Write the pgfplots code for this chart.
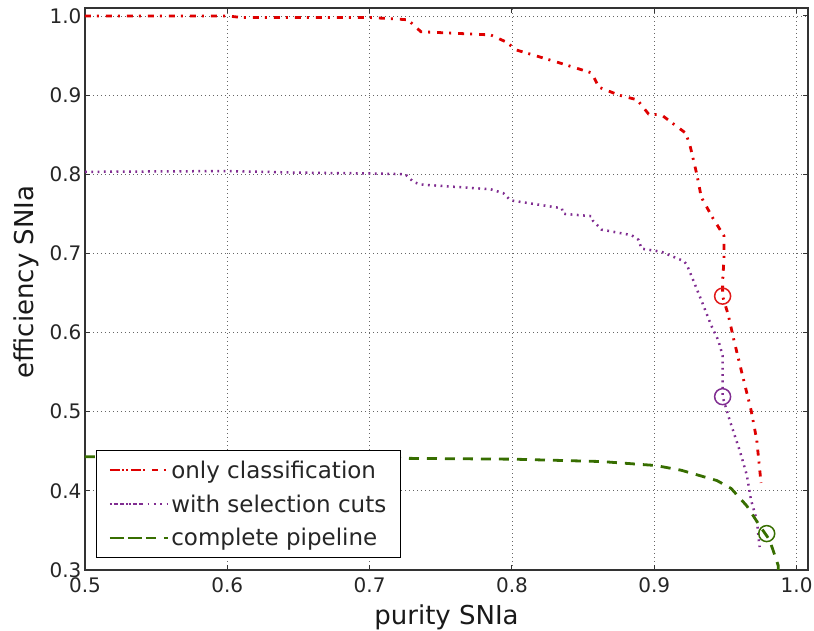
\documentclass[border=0pt]{standalone}
\usepackage{fontspec}
\setmainfont{DejaVu Sans}
\usepackage{pgfplots}
\pgfplotsset{compat=1.18}
\definecolor{cred}{RGB}{222,0,0}
\definecolor{cpurple}{RGB}{128,45,145}
\definecolor{cgreen}{RGB}{55,110,0}
\begin{document}
\begin{tikzpicture}
\path[use as bounding box] (-85pt,-61pt) rectangle (729pt,570pt);
\begin{axis}[
  at={(0,0)}, anchor=south west,
  scale only axis, width=723pt, height=562pt,
  xmin=0.5, xmax=1.008, ymin=0.3, ymax=1.01,
  xtick={0.5,0.6,...,1.0}, ytick={0.3,0.4,...,1.0},
  /pgf/number format/assume math mode=true,
  /pgf/number format/.cd, fixed, fixed zerofill, precision=1, /pgfplots/.cd,
  tick label style={font=\fontsize{20}{24}\selectfont, text=black!85},
  xticklabel style={yshift=-4pt},
  xlabel={purity SNIa}, ylabel={efficiency SNIa},
  label style={font=\fontsize{26}{30}\selectfont, text=black!90},
  xlabel style={at={(axis description cs:0.5,0)}, anchor=base, yshift=-55pt},
  ylabel style={at={(axis description cs:-0.0719,0.5125)}, anchor=base},
  grid=major,
  major grid style={black!60, line width=0.7pt, dash pattern=on 1pt off 3pt},
  axis line style={black!80, line width=1.2pt},
  major tick length=5pt,
  tick style={black!80, line width=1pt},
  legend style={at={(rel axis cs:0.0152,0.0214)}, anchor=south west,
    font=\fontsize{23}{27}\selectfont, draw=black, line width=1pt, fill=white,
    inner xsep=12pt, inner ysep=8pt, row sep=11pt, cells={anchor=west, text=black!85}},
  legend cell align=left,
  legend image code/.code={\draw[#1] (4pt,0pt) -- (35pt,0pt); \path (0pt,0pt) -- (58pt,0pt);},
]
\addplot[cred, line width=2.8pt, dash pattern=on 6pt off 6pt on 2pt off 7pt] coordinates {
(0.5,1.0)(0.6,1.0)(0.61,0.998)(0.70,0.998)(0.72,0.996)(0.727,0.995)(0.736,0.98)(0.785,0.976)(0.796,0.967)(0.803,0.957)(0.831,0.942)(0.856,0.928)(0.861,0.910)(0.875,0.90)(0.888,0.894)(0.896,0.876)(0.905,0.875)(0.922,0.852)(0.925,0.837)(0.930,0.799)(0.933,0.771)(0.941,0.745)(0.949,0.722)(0.949,0.694)(0.948,0.664)(0.948,0.646)(0.952,0.622)(0.956,0.590)(0.961,0.553)(0.968,0.502)(0.972,0.464)(0.975,0.410)
};
\addlegendentry{only classification}
\addplot[cpurple, line width=2.5pt, dash pattern=on 1.8pt off 4.5pt] coordinates {
(0.5,0.803)(0.6,0.804)(0.65,0.802)(0.7,0.801)(0.725,0.800)(0.731,0.790)(0.736,0.787)(0.785,0.781)(0.794,0.776)(0.799,0.767)(0.835,0.757)(0.836,0.750)(0.856,0.747)(0.857,0.741)(0.863,0.730)(0.884,0.723)(0.889,0.717)(0.891,0.706)(0.905,0.702)(0.921,0.690)(0.923,0.685)(0.926,0.672)(0.933,0.641)(0.940,0.609)(0.945,0.590)(0.948,0.571)(0.948,0.540)(0.948,0.519)(0.953,0.489)(0.960,0.451)(0.965,0.420)(0.968,0.388)(0.972,0.363)(0.974,0.329)
};
\addlegendentry{with selection cuts}
\addplot[cgreen, line width=2.8pt, dash pattern=on 10pt off 8pt] coordinates {
(0.5,0.443)(0.6,0.443)(0.7,0.442)(0.729,0.441)(0.801,0.440)(0.863,0.437)(0.901,0.432)(0.919,0.426)(0.944,0.413)(0.954,0.403)(0.965,0.381)(0.974,0.356)(0.981,0.338)(0.987,0.306)(0.9875,0.29)
};
\addlegendentry{complete pipeline}
\addplot[only marks, mark=o, mark size=8pt, cred!90, line width=1.5pt, forget plot] coordinates {(0.948,0.646)};
\addplot[only marks, mark=o, mark size=8pt, cpurple, line width=1.5pt, forget plot] coordinates {(0.948,0.519)};
\addplot[only marks, mark=o, mark size=8pt, cgreen, line width=1.5pt, forget plot] coordinates {(0.979,0.346)};
\end{axis}
\end{tikzpicture}
\end{document}
